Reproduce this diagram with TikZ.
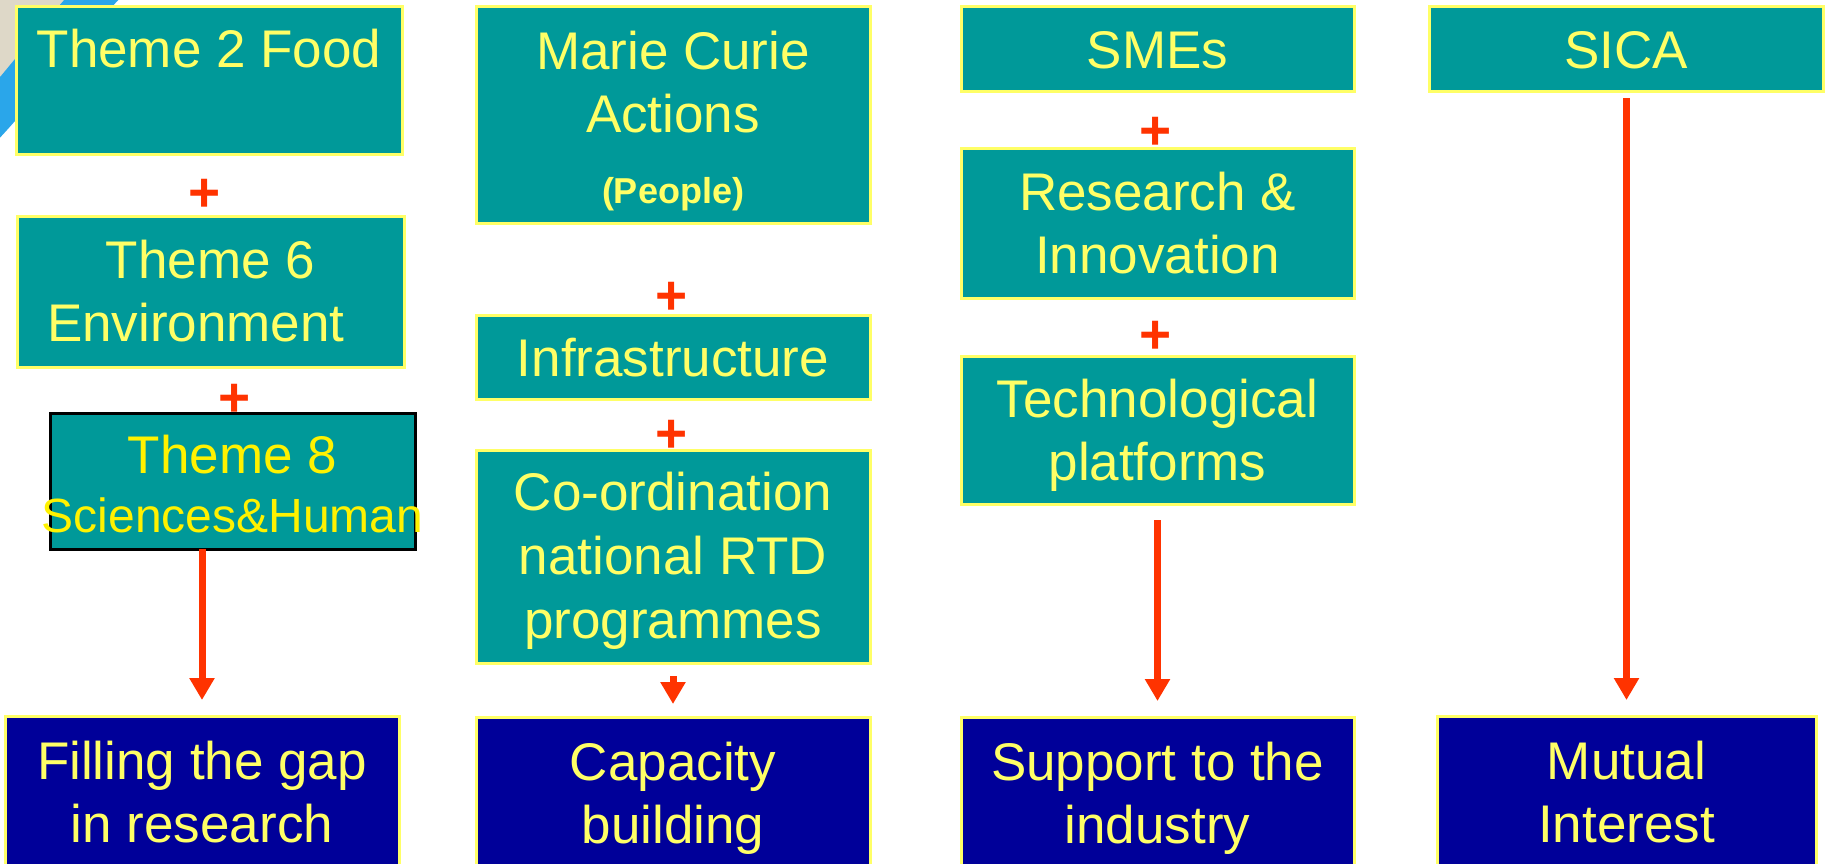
\documentclass[tikz,border=0pt]{standalone}
\usepackage{fontspec}
\setmainfont{Liberation Sans}
\usetikzlibrary{arrows.meta}
\definecolor{boxteal}{HTML}{009999}
\definecolor{boxnavy}{HTML}{000099}
\definecolor{lyellow}{HTML}{FFFF66}
\definecolor{arrred}{HTML}{FF3300}
\definecolor{swooshblue}{HTML}{2AA6EA}
\definecolor{beigebg}{HTML}{DED8C8}
\newcommand\mlines[1]{\vtop{\halign{\hfil##\hfil\cr#1\crcr}}}
\begin{document}
\begin{tikzpicture}[x=1pt,y=-1pt,
  box/.style={draw=lyellow, line width=3pt, fill=boxteal, inner sep=0pt, outer sep=0pt},
  goal/.style={box, fill=boxnavy},
  txt/.style={text=lyellow, inner sep=0pt, outer sep=0pt, anchor=base, font=\fontsize{53}{63}\selectfont},
  plus/.style={text=arrred, inner sep=0pt, outer sep=0pt, font=\fontsize{55}{55}\selectfont\bfseries},
  arr/.style={draw=arrred, line width=7pt, -{Triangle[width=24pt,length=22pt]}},
]
\path[use as bounding box] (0,0) rectangle (1825,863);
\clip (0,0) rectangle (1825,863);
\fill[white] (0,0) rectangle (1825,863);
% background decoration (top-left)
\fill[beigebg] (0,0) rectangle (70,80);
\draw[swooshblue, line width=40pt] (-30,140) .. controls (20,90) and (60,30) .. (110,-20);

% column 1
\node[box, minimum width=386pt, minimum height=148pt] (t2) at (209,80) {};
\node[txt] (t2a) at (209,67) {Theme 2 Food};
\node[plus] (p1) at (205,195) {+};
\node[box, minimum width=387pt, minimum height=151pt] (t6) at (210.5,291.5) {};
\node[txt] (t6a) at (210.5,278) {\mlines{Theme 6\cr Environment\ \ }};
\node[plus] (p2) at (235,400) {+};
\node[box, draw=black, minimum width=365pt, minimum height=136pt] (t8) at (232.5,481) {};
\node[txt, text=yellow] (t8a) at (232.5,473) {Theme 8\ };
\node[txt, text=yellow, font=\fontsize{48}{58}\selectfont] (t8b) at (232.5,532) {Sciences\&Human};
\node[goal, minimum width=394pt, minimum height=184pt] (fill) at (202,808) {};
\node[txt] (filla) at (202,779) {\mlines{Filling the gap\cr in research}};

% column 2
\node[box, minimum width=394pt, minimum height=217pt] (mc) at (673,114.5) {};
\node[txt] (mca) at (673,69) {\mlines{Marie Curie\cr Actions}};
\node[txt, font=\fontsize{36}{43}\selectfont\bfseries] (mcb) at (673,203) {(People)};
\node[plus] (p3) at (672,298) {+};
\node[box, minimum width=394pt, minimum height=84pt] (inf) at (673,357) {};
\node[txt] (infa) at (673,376) {Infrastructure};
\node[plus] (p4) at (672,436) {+};
\node[box, minimum width=394pt, minimum height=213pt] (crd) at (673,556.5) {};
\node[txt, font=\fontsize{53}{64}\selectfont] (crda) at (673,510) {\mlines{Co-ordination\cr national RTD\cr programmes}};
\node[goal, minimum width=394pt, minimum height=184pt] (cap) at (673,809) {};
\node[txt] (capa) at (673,780) {\mlines{Capacity\cr building}};

% column 3
\node[box, minimum width=393pt, minimum height=85pt] (sme) at (1157.5,48.5) {};
\node[txt] (smea) at (1157.5,68) {SMEs};
\node[plus] (p5) at (1156,133) {+};
\node[box, minimum width=393pt, minimum height=150pt] (ri) at (1157.5,223) {};
\node[txt] (ria) at (1157.5,210) {\mlines{Research \&\cr Innovation}};
\node[plus] (p6) at (1156,337) {+};
\node[box, minimum width=393pt, minimum height=148pt] (tp) at (1157.5,430) {};
\node[txt] (tpa) at (1157.5,417) {\mlines{Technological\cr platforms}};
\node[goal, minimum width=393pt, minimum height=184pt] (sup) at (1157.5,809) {};
\node[txt] (supa) at (1157.5,780) {\mlines{Support to the\cr industry}};

% column 4
\node[box, minimum width=394pt, minimum height=85pt] (sica) at (1626,48.5) {};
\node[txt] (sicaa) at (1626,68) {SICA};
\node[goal, minimum width=379pt, minimum height=184pt] (mut) at (1626.5,808) {};
\node[txt] (muta) at (1626.5,779) {\mlines{Mutual\cr Interest}};

% arrows
\draw[arr, shorten >=16pt] (t8.south -| fill.north) -- (fill.north);
\draw[arr, shorten <=13pt, shorten >=13pt] (crd.south) -- (cap.north);
\draw[arr, shorten <=16pt, shorten >=16pt] (tp.south) -- (sup.north);
\draw[arr, shorten <=7pt, shorten >=16pt] (sica.south -| mut.north) -- (mut.north);
\end{tikzpicture}
\end{document}
